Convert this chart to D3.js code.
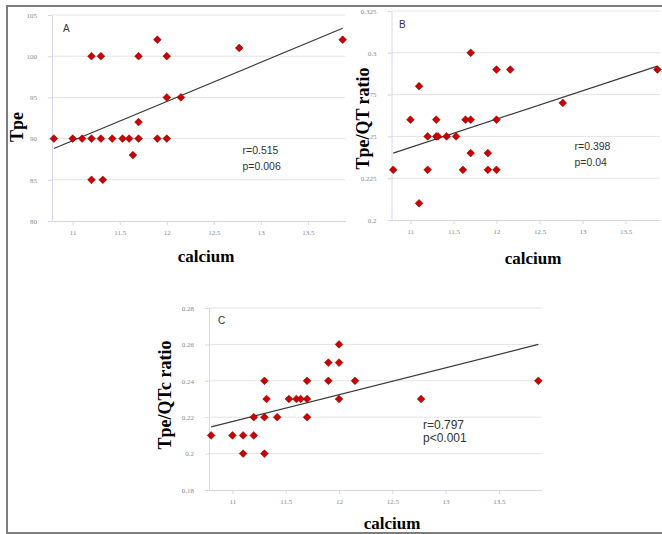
<!DOCTYPE html>
<html>
<head>
<meta charset="utf-8">
<script src="https://cdn.jsdelivr.net/npm/d3@7"></script>
<style>
  body { margin: 0; background: #fff; }
  svg { display: block; }
</style>
</head>
<body>
<svg id="fig" width="662" height="534"></svg>
<script>
// ---------- data ----------
const calciumTicks = [11, 11.5, 12, 12.5, 13, 13.5];
const trendCalcium = [10.8, 13.87];

// A: Tpe
const calciumA = [10.8, 11.0, 11.1, 11.2, 11.2, 11.2, 11.3, 11.3, 11.32, 11.42, 11.53, 11.6,
                  11.64, 11.7, 11.7, 11.7, 11.9, 11.9, 12.0, 12.0, 12.0, 12.15, 12.77, 13.87];
const tpe      = [90, 90, 90, 90, 100, 85, 90, 100, 85, 90, 90, 90,
                  88, 90, 92, 100, 102, 90, 90, 95, 100, 95, 101, 102];
const tpeTicks = [80, 85, 90, 95, 100, 105];
const trendA = [88.8, 103.4];
const statsA = ["r=0.515", "p=0.006"];

// B: Tpe/QT ratio
const calciumB = [10.8, 11.0, 11.1, 11.1, 11.2, 11.2, 11.3, 11.3, 11.32, 11.42, 11.53, 11.61,
                  11.64, 11.7, 11.7, 11.7, 11.9, 11.9, 12.0, 12.0, 12.0, 12.16, 12.77, 13.87];
const tpeQt    = [0.23, 0.26, 0.28, 0.21, 0.25, 0.23, 0.26, 0.25, 0.25, 0.25, 0.25, 0.23,
                  0.26, 0.26, 0.30, 0.24, 0.24, 0.23, 0.23, 0.26, 0.29, 0.29, 0.27, 0.29];
const tpeQtTicks = [0.2, 0.225, 0.25, 0.275, 0.3, 0.325];
const trendB = [0.240, 0.292];
const statsB = ["r=0.398", "p=0.04"];

// C: Tpe/QTc ratio
const calciumC = [10.8, 11.0, 11.1, 11.1, 11.2, 11.2, 11.3, 11.3, 11.3, 11.32, 11.42, 11.53,
                  11.6, 11.64, 11.7, 11.7, 11.7, 11.9, 11.9, 12.0, 12.0, 12.0, 12.15, 12.77, 13.87];
const tpeQtc   = [0.21, 0.21, 0.21, 0.20, 0.21, 0.22, 0.24, 0.22, 0.20, 0.23, 0.22, 0.23,
                  0.23, 0.23, 0.23, 0.24, 0.22, 0.25, 0.24, 0.26, 0.25, 0.23, 0.24, 0.23, 0.24];
const tpeQtcTicks = [0.18, 0.2, 0.22, 0.24, 0.26, 0.28];
const trendC = [0.2147, 0.26];
const statsC = ["r=0.797", "p<0.001"];

// ---------- layout ----------
const svg = d3.select("#fig");

const panels = [
  {
    label: "A", xs: calciumA, ys: tpe, yTicks: tpeTicks, trend: trendA, stats: statsA,
    yTitle: "Tpe", fmt: d3.format("d"),
    x: [52, 345.5], y: [221, 15], yDomain: [80, 105],
    labelPos: [63, 32], statsPos: [242.5, 154, 16], statsSize: 10.5,
    yTitlePos: [22.5, 127], xTitlePos: [206, 262], titleBox: false
  },
  {
    label: "B", xs: calciumB, ys: tpeQt, yTicks: tpeQtTicks, trend: trendB, stats: statsB,
    yTitle: "Tpe/QT ratio", fmt: d => String(d),
    x: [391.5, 660], y: [220, 11], yDomain: [0.2, 0.325],
    labelPos: [399, 28], statsPos: [574.5, 149.5, 16], statsSize: 10.5,
    yTitlePos: [369, 118.5], xTitlePos: [533, 264], titleBox: true
  },
  {
    label: "C", xs: calciumC, ys: tpeQtc, yTicks: tpeQtcTicks, trend: trendC, stats: statsC,
    yTitle: "Tpe/QTc ratio", fmt: d => String(d),
    x: [209, 541.5], y: [490, 308], yDomain: [0.18, 0.28],
    labelPos: [218, 324], statsPos: [423, 428.5, 13.5], statsSize: 12,
    yTitlePos: [170.5, 395], xTitlePos: [392, 529], titleBox: false
  }
];

const diamond = d3.symbol(d3.symbolSquare, 30)();

function drawPanel(p) {
  const g = svg.append("g");
  const x = d3.scaleLinear().domain([10.78, 13.9]).range(p.x);
  const y = d3.scaleLinear().domain(p.yDomain).range(p.y);

  // gridlines
  g.selectAll("line.grid")
    .data(p.yTicks.slice(1))
    .join("line")
    .attr("x1", p.x[0]).attr("x2", p.x[1])
    .attr("y1", d => y(d)).attr("y2", d => y(d))
    .attr("stroke", "#e4e4e4").attr("stroke-width", 1);

  // axes
  const axisStyle = sel => {
    sel.select(".domain").attr("stroke", "#d6d6ea");
    sel.selectAll(".tick line").attr("stroke", "#d6d6ea");
    sel.selectAll(".tick text")
      .attr("fill", "#8a8a8a")
      .style("font-family", "'Liberation Serif', serif")
      .style("font-size", "7px");
  };

  g.append("g")
    .attr("transform", `translate(0,${p.y[0]})`)
    .call(d3.axisBottom(x).tickValues(calciumTicks).tickSize(4).tickSizeOuter(0)
      .tickPadding(5).tickFormat(d => String(d)))
    .call(axisStyle);

  g.append("g")
    .attr("transform", `translate(${p.x[0]},0)`)
    .call(d3.axisLeft(y).tickValues(p.yTicks).tickSize(4).tickSizeOuter(0)
      .tickPadding(11).tickFormat(p.fmt))
    .call(axisStyle);

  // trend line
  g.append("line")
    .attr("x1", x(trendCalcium[0])).attr("y1", y(p.trend[0]))
    .attr("x2", x(trendCalcium[1])).attr("y2", y(p.trend[1]))
    .attr("stroke", "#3a3a3a").attr("stroke-width", 1.2);

  // points
  g.selectAll("path.pt")
    .data(p.xs.map((c, i) => [c, p.ys[i]]))
    .join("path")
    .attr("d", diamond)
    .attr("transform", d => `translate(${x(d[0])},${y(d[1])}) rotate(45)`)
    .attr("fill", "#cc0000")
    .attr("stroke", "#7a0000")
    .attr("stroke-width", 0.5);

  // panel label
  g.append("text")
    .attr("x", p.labelPos[0]).attr("y", p.labelPos[1])
    .attr("fill", "#333")
    .style("font-family", "'Liberation Sans', sans-serif")
    .style("font-size", "10px")
    .text(p.label);

  // stats
  g.selectAll("text.stat")
    .data(p.stats)
    .join("text")
    .attr("x", p.statsPos[0])
    .attr("y", (d, i) => p.statsPos[1] + i * p.statsPos[2])
    .attr("fill", "#333")
    .style("font-family", "'Liberation Sans', sans-serif")
    .style("font-size", p.statsSize + "px")
    .text(d => d);

  // axis titles
  const yt = g.append("g")
    .attr("transform", `translate(${p.yTitlePos[0]},${p.yTitlePos[1]}) rotate(-90)`);
  const ytText = yt.append("text")
    .attr("text-anchor", "middle")
    .attr("fill", "#000")
    .style("font-family", "'Liberation Serif', serif")
    .style("font-weight", "bold")
    .style("font-size", "18px")
    .text(p.yTitle);
  if (p.titleBox) {
    // white box behind the title, as in the source (it clips the start of some tick labels)
    const bb = ytText.node().getBBox();
    yt.insert("rect", "text")
      .attr("x", bb.x).attr("y", bb.y)
      .attr("width", bb.width).attr("height", -bb.y + 1.5)
      .attr("fill", "#fff");
  }

  g.append("text")
    .attr("x", p.xTitlePos[0]).attr("y", p.xTitlePos[1])
    .attr("text-anchor", "middle")
    .attr("fill", "#000")
    .style("font-family", "'Liberation Serif', serif")
    .style("font-weight", "bold")
    .style("font-size", "17px")
    .text("calcium");
}

panels.forEach(drawPanel);

// figure frame (top, left, bottom)
svg.append("path")
  .attr("d", d3.line()([[662, 6], [7, 6], [7, 533], [662, 533]]))
  .attr("fill", "none")
  .attr("stroke", "#7d7d7d")
  .attr("stroke-width", 2);
</script>
</body>
</html>
